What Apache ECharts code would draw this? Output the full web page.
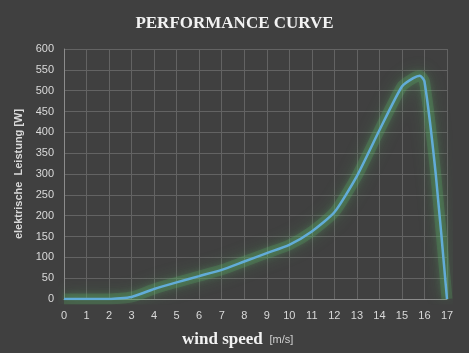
<!DOCTYPE html>
<html><head><meta charset="utf-8">
<script src="https://cdn.jsdelivr.net/npm/echarts@6/dist/echarts.min.js"></script>
<style>
html,body{margin:0;padding:0;background:#ffffff;}
#c{width:469px;height:353px;background:#404040;}
#strip{width:469px;height:7px;background:#fff;}
</style></head>
<body><div id="c"></div><div id="strip"></div>
<script>
const windSpeed = [0,1,2,3,4,5,6,7,8,9,10,11,12,13,14,15,15.5,15.8,16,16.5,17];
const power     = [0,0,0,5,24,40,55,70,90,110,130,162,208,295,405,510,530,536,522,300,0];
const xTicks = {min:0, max:17, interval:1};
const yTicks = {min:0, max:600, interval:50};

const pts = windSpeed.map((x,i)=>[x, power[i]]);
const chart = echarts.init(document.getElementById('c'), null, {renderer:'canvas'});
chart.setOption({
  backgroundColor:'#404040',
  animation:false,
  title:{text:'PERFORMANCE CURVE', left:'center', top:10,
    textStyle:{color:'#f2f2f2', fontFamily:'Liberation Serif', fontWeight:'bold', fontSize:17}},
  grid:{left:64, right:22, top:49, bottom:54},
  xAxis:{type:'value', min:xTicks.min, max:xTicks.max, interval:xTicks.interval,
    axisLine:{show:true, lineStyle:{color:'#8c8c8c', width:1}},
    axisTick:{show:false},
    axisLabel:{color:'#d9d9d9', fontFamily:'Liberation Sans', fontSize:11, margin:11},
    splitLine:{show:true, lineStyle:{color:'#636363', width:1}}},
  yAxis:{type:'value', min:yTicks.min, max:yTicks.max, interval:yTicks.interval,
    name:'elektrische  Leistung [W]', nameLocation:'middle', nameGap:27,
    nameTextStyle:{color:'#d9d9d9', fontFamily:'Liberation Sans', fontWeight:'bold', fontSize:11},
    axisLine:{show:true, lineStyle:{color:'#8c8c8c', width:1}},
    axisTick:{show:false},
    axisLabel:{color:'#d9d9d9', fontFamily:'Liberation Sans', fontSize:11, margin:10},
    splitLine:{show:true, lineStyle:{color:'#636363', width:1}}},
  graphic:[{type:'text', left:182, top:331, style:{
    rich:{a:{fill:'#f2f2f2', font:'bold 17px "Liberation Serif"'}, b:{fill:'#d0d0d0', font:'11px "Liberation Sans"'}},
    text:'{a|wind speed}  {b|[m/s]}'}}],
  series:[
    {type:'line', smooth:0.2, symbol:'none', silent:true, data: pts, z:1,
     lineStyle:{color:'rgba(90,170,100,0.26)', width:11, shadowColor:'rgba(90,170,100,0.9)', shadowBlur:16}},
    {type:'line', smooth:0.2, symbol:'none', data: pts, z:2,
     lineStyle:{color:'#62acd8', width:2.5, shadowColor:'rgba(95,180,110,0.9)', shadowBlur:8}}]
});
</script></body></html>
